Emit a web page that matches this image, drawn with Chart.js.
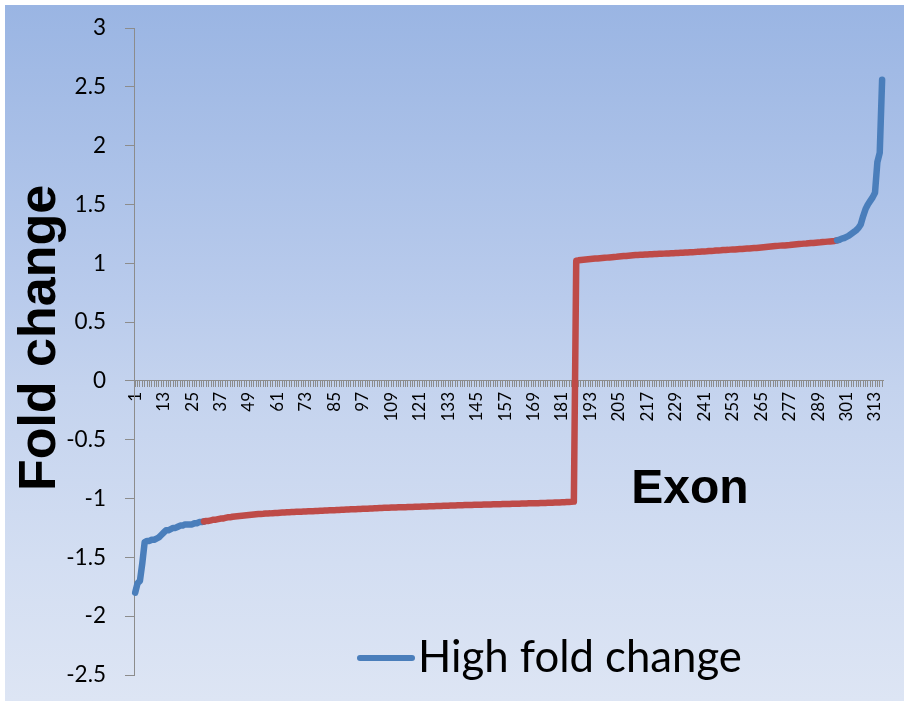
<!DOCTYPE html>
<html>
<head>
<meta charset="utf-8">
<script src="https://cdn.jsdelivr.net/npm/chart.js@4.4.1/dist/chart.umd.min.js"></script>
<style>
  html, body { margin: 0; padding: 0; background: #ffffff; }
  #wrap { width: 908px; height: 705px; position: relative; }
</style>
</head>
<body>
<div id="wrap"><canvas id="foldChart" width="908" height="705"></canvas></div>
<script>
// Exon fold changes, sorted ascending (down-regulated exons first)
const negativeFold = [
  -1.80, -1.72, -1.70, -1.55, -1.37, -1.36, -1.36, -1.35, -1.35, -1.34,
  -1.33, -1.31, -1.29, -1.27, -1.27, -1.26, -1.25, -1.25, -1.24, -1.23,
  -1.23, -1.22, -1.22, -1.22, -1.22, -1.21, -1.21, -1.20, -1.20,
  -1.195, -1.19, -1.19, -1.185, -1.18, -1.18, -1.175, -1.17, -1.17, -1.165,
  -1.16, -1.16, -1.155,
  -1.152, -1.15, -1.148, -1.146, -1.144, -1.142, -1.14, -1.138, -1.136, -1.134,
  -1.132, -1.131, -1.13, -1.128, -1.127, -1.126, -1.124, -1.123, -1.122, -1.12,
  -1.119, -1.118, -1.117, -1.116, -1.115, -1.114, -1.113, -1.112, -1.112, -1.111,
  -1.11, -1.109, -1.108, -1.107, -1.106, -1.105, -1.104, -1.103, -1.102, -1.101,
  -1.10, -1.10,
  -1.099, -1.098, -1.097, -1.096, -1.095, -1.094, -1.093, -1.092, -1.091, -1.09,
  -1.089, -1.088, -1.087, -1.086, -1.086, -1.085, -1.084, -1.083, -1.082, -1.081,
  -1.08, -1.079, -1.079, -1.078, -1.077, -1.076, -1.076, -1.075,
  -1.074, -1.074, -1.073, -1.072, -1.072, -1.071, -1.07, -1.07, -1.069, -1.068,
  -1.068, -1.067, -1.066, -1.066, -1.065, -1.064, -1.064, -1.063, -1.062, -1.062,
  -1.061, -1.06, -1.06, -1.059, -1.058, -1.057, -1.056, -1.055,
  -1.055, -1.054, -1.054, -1.053, -1.053, -1.052, -1.052, -1.051, -1.051, -1.05,
  -1.05, -1.049, -1.049, -1.048, -1.048, -1.047, -1.047, -1.046, -1.046, -1.045,
  -1.045, -1.044, -1.044, -1.043, -1.043, -1.042, -1.041, -1.04,
  -1.04, -1.039, -1.039, -1.038, -1.037, -1.037, -1.036, -1.035, -1.035, -1.034,
  -1.033, -1.033, -1.032, -1.031, -1.03, -1.029, -1.028, -1.026
];

// Up-regulated exons
const positiveFold = [
  1.021, 1.025, 1.028, 1.03, 1.032, 1.034, 1.036, 1.038, 1.04, 1.041,
  1.043, 1.045, 1.047, 1.048, 1.05, 1.052, 1.054, 1.055, 1.057, 1.059,
  1.061, 1.062, 1.064, 1.066, 1.068, 1.07,
  1.071, 1.072, 1.073, 1.074, 1.075, 1.076, 1.077, 1.078, 1.079, 1.08,
  1.081, 1.082, 1.083, 1.084, 1.085, 1.086, 1.087, 1.088, 1.089, 1.09,
  1.091, 1.092, 1.093, 1.094, 1.095, 1.097, 1.098, 1.10,
  1.101, 1.102, 1.104, 1.105, 1.106, 1.108, 1.109, 1.11, 1.112, 1.113,
  1.114, 1.116, 1.117, 1.118, 1.12, 1.121, 1.122, 1.124, 1.125, 1.126,
  1.128, 1.129, 1.13, 1.132, 1.134, 1.136, 1.138, 1.14,
  1.142, 1.144, 1.146, 1.148, 1.15, 1.151, 1.152, 1.154, 1.155, 1.157,
  1.159, 1.161, 1.163, 1.165,
  1.167, 1.168, 1.17, 1.172, 1.173, 1.175, 1.177, 1.178, 1.18, 1.182,
  1.184, 1.186, 1.188, 1.19,
  1.195, 1.20, 1.21, 1.215, 1.225, 1.235, 1.25, 1.265, 1.28, 1.30,
  1.33, 1.40, 1.46, 1.50, 1.53, 1.56, 1.60, 1.86, 1.94, 2.56
];

const foldChange = negativeFold.concat(positiveFold);

// Exon numbers along the category axis
const exonLabels = foldChange.map((_, i) => String(i + 1));

// Exons before this index and from the second index on are the high fold change tails
const lowTailEnd = 29;
const highTailStart = 296;

const yTicks = { min: -2.5, max: 3, step: 0.5 };
const labelEvery = 12;

const seriesName = 'High fold change';
const blue = '#4A7EBB';
const red = '#BE4B48';
const axisGrey = '#8C8C8C';

const chartBackground = {
  id: 'chartBackground',
  beforeDraw(chart) {
    const ctx = chart.ctx;
    const g = ctx.createLinearGradient(0, 5, 0, 701);
    g.addColorStop(0, '#9AB5E3');
    g.addColorStop(0.42, '#B9CBEC');
    g.addColorStop(0.55, '#C4D3EE');
    g.addColorStop(0.8, '#D3DEF2');
    g.addColorStop(1, '#DDE5F4');
    ctx.save();
    ctx.fillStyle = g;
    ctx.fillRect(5, 5, 899, 696);
    ctx.restore();
  }
};

const titlesAndLegend = {
  id: 'titlesAndLegend',
  afterDraw(chart) {
    const ctx = chart.ctx;
    ctx.save();
    ctx.fillStyle = '#000000';

    // vertical axis title
    ctx.font = 'bold 52px "Liberation Sans", Arial, sans-serif';
    ctx.translate(41, 338);
    ctx.rotate(-Math.PI / 2);
    ctx.textAlign = 'center';
    ctx.textBaseline = 'middle';
    ctx.fillText('Fold change', 0, 0);
    ctx.setTransform(1, 0, 0, 1, 0, 0);

    // horizontal axis title
    ctx.font = 'bold 48px "Liberation Sans", Arial, sans-serif';
    ctx.textAlign = 'center';
    ctx.textBaseline = 'alphabetic';
    ctx.fillText('Exon', 690, 503);

    // legend entry
    ctx.strokeStyle = blue;
    ctx.lineWidth = 6;
    ctx.lineCap = 'round';
    ctx.beginPath();
    ctx.moveTo(360, 658);
    ctx.lineTo(412, 658);
    ctx.stroke();

    let size = 44;
    ctx.font = size + 'px Lato, "Noto Sans", sans-serif';
    const w = ctx.measureText(seriesName).width;
    size = size * 324 / w;
    ctx.font = size.toFixed(1) + 'px Lato, "Noto Sans", sans-serif';
    ctx.textAlign = 'left';
    ctx.fillText(seriesName, 418, 672);
    ctx.restore();
  }
};

new Chart(document.getElementById('foldChart'), {
  type: 'line',
  data: {
    labels: exonLabels,
    datasets: [{
      label: seriesName,
      data: foldChange,
      borderColor: blue,
      borderWidth: 6.5,
      borderJoinStyle: 'round',
      borderCapStyle: 'round',
      pointRadius: 0,
      tension: 0,
      fill: false,
      segment: {
        borderColor: c => (c.p0DataIndex < lowTailEnd || c.p0DataIndex >= highTailStart) ? blue : red
      }
    }]
  },
  options: {
    responsive: false,
    devicePixelRatio: 1,
    animation: false,
    layout: { padding: { left: 0, top: 28, right: 24.7, bottom: 30 } },
    plugins: {
      legend: { display: false },
      tooltip: { enabled: false },
      title: { display: false }
    },
    scales: {
      x: {
        type: 'category',
        position: { y: 0 },
        offset: true,
        grid: { drawOnChartArea: false, drawTicks: true, tickLength: 6, color: axisGrey, lineWidth: 1 },
        border: { display: true, color: axisGrey, width: 1 },
        ticks: {
          autoSkip: false,
          minRotation: 90,
          maxRotation: 90,
          padding: 5,
          color: '#000000',
          font: { family: 'Lato, "Noto Sans", sans-serif', size: 17 },
          callback: (v, i) => (i % labelEvery === 0 ? exonLabels[i] : '')
        }
      },
      y: {
        min: yTicks.min,
        max: yTicks.max,
        grid: { drawOnChartArea: false, drawTicks: true, tickLength: 9, color: axisGrey },
        border: { display: true, color: axisGrey, width: 1 },
        ticks: {
          stepSize: yTicks.step,
          padding: 19,
          color: '#000000',
          font: { family: 'Lato, "Noto Sans", sans-serif', size: 22.5 },
          callback: v => String(Number(v.toFixed(2)))
        },
        afterFit: s => {
          s.width = 134;
          s.paddingTop = 0;
          s.paddingBottom = 0;
        }
      }
    }
  },
  plugins: [chartBackground, titlesAndLegend]
});
</script>
</body>
</html>
